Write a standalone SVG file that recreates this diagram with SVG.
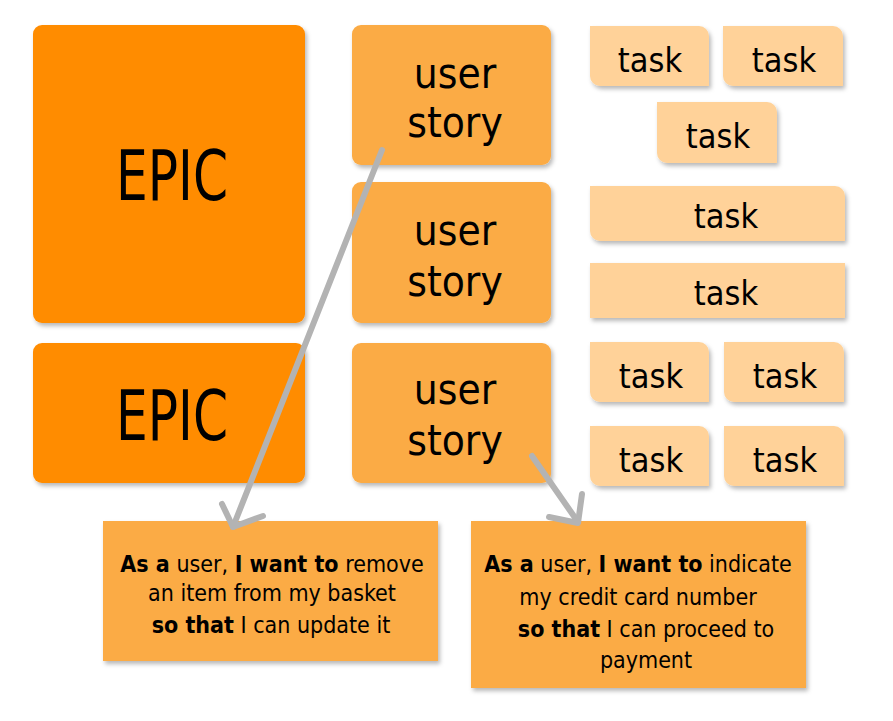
<svg xmlns="http://www.w3.org/2000/svg" width="893" height="721" viewBox="0 0 893 721">
<defs>
<filter id="sh" x="-10%" y="-10%" width="130%" height="130%">
<feDropShadow dx="2" dy="3" stdDeviation="2" flood-color="#000" flood-opacity="0.28"/>
</filter>
</defs>
<style>
text{font-family:"Liberation Sans Narrow","DejaVu Sans Condensed","Liberation Sans",sans-serif;fill:#000;text-anchor:middle}
.epic{fill:#FF8C00;filter:url(#sh)}
.story{fill:#FBAB45;filter:url(#sh)}
.task{fill:#FFD299;filter:url(#sh)}
.note{fill:#FBAB45;filter:url(#sh)}
.te{font-size:70px}
.ts{font-size:42px}
.tt{font-size:34px}
.tn{font-size:23px}
.b{font-weight:bold}
.arr{fill:none;stroke:#B3B3B3;stroke-width:6;stroke-linecap:round;stroke-linejoin:round}
</style>
<rect width="893" height="721" fill="#fff"/>
<g id="epic1"><rect class="epic" x="33" y="25" width="272" height="298" rx="9"/><text class="te" x="172" y="200" textLength="112" lengthAdjust="spacingAndGlyphs">EPIC</text></g>
<g id="epic2"><rect class="epic" x="33" y="343" width="272" height="140" rx="9"/><text class="te" x="172" y="440" textLength="112" lengthAdjust="spacingAndGlyphs">EPIC</text></g>
<g id="story1"><rect class="story" x="352" y="25" width="199" height="140" rx="9"/><text class="ts" x="455" y="88">user</text><text class="ts" x="455" y="137">story</text></g>
<g id="story2"><rect class="story" x="352" y="182" width="199" height="141" rx="9"/><text class="ts" x="455" y="245">user</text><text class="ts" x="455" y="296">story</text></g>
<g id="story3"><rect class="story" x="352" y="343" width="199" height="140" rx="9"/><text class="ts" x="455" y="404">user</text><text class="ts" x="455" y="455">story</text></g>
<g id="task1"><path class="task" d="M590,26H699A10,10 0 0 1 709,36V86H600A10,10 0 0 1 590,76Z"/><text class="tt" x="650" y="72">task</text></g>
<g id="task2"><path class="task" d="M723,26H833A10,10 0 0 1 843,36V86H733A10,10 0 0 1 723,76Z"/><text class="tt" x="784" y="72">task</text></g>
<g id="task3"><path class="task" d="M657,102H767A10,10 0 0 1 777,112V163H667A10,10 0 0 1 657,153Z"/><text class="tt" x="718" y="148">task</text></g>
<g id="task4"><path class="task" d="M590,186H835A10,10 0 0 1 845,196V241H600A10,10 0 0 1 590,231Z"/><text class="tt" x="726" y="228">task</text></g>
<g id="task5"><rect class="task" x="590" y="263" width="255" height="55"/><text class="tt" x="726" y="305">task</text></g>
<g id="task6"><path class="task" d="M590,342H699A10,10 0 0 1 709,352V402H600A10,10 0 0 1 590,392Z"/><text class="tt" x="651" y="388">task</text></g>
<g id="task7"><path class="task" d="M724,342H834A10,10 0 0 1 844,352V402H734A10,10 0 0 1 724,392Z"/><text class="tt" x="785" y="388">task</text></g>
<g id="task8"><path class="task" d="M590,426H699A10,10 0 0 1 709,436V486H600A10,10 0 0 1 590,476Z"/><text class="tt" x="651" y="472">task</text></g>
<g id="task9"><path class="task" d="M724,426H834A10,10 0 0 1 844,436V486H734A10,10 0 0 1 724,476Z"/><text class="tt" x="785" y="472">task</text></g>
<g id="note1"><rect class="note" x="103" y="521" width="335" height="140"/>
<text class="tn" x="272" y="572"><tspan class="b">As a</tspan> user, <tspan class="b">I want to</tspan> remove</text>
<text class="tn" x="272" y="601">an item from my basket</text>
<text class="tn" x="271" y="633"><tspan class="b">so that</tspan> I can update it</text>
</g>
<g id="note2"><rect class="note" x="471" y="521" width="335" height="167"/>
<text class="tn" x="638" y="572"><tspan class="b">As a</tspan> user, <tspan class="b">I want to</tspan> indicate</text>
<text class="tn" x="638" y="605">my credit card number</text>
<text class="tn" x="646" y="637"><tspan class="b">so that</tspan> I can proceed to</text>
<text class="tn" x="646" y="668">payment</text>
</g>
<g id="connectors">
<path class="arr" d="M382,150L233,527"/>
<path class="arr" d="M222,504L233,527L263,516"/>
<path class="arr" d="M532,456L578,522"/>
<path class="arr" d="M549,517L578,523L582,494"/>
</g>
</svg>
